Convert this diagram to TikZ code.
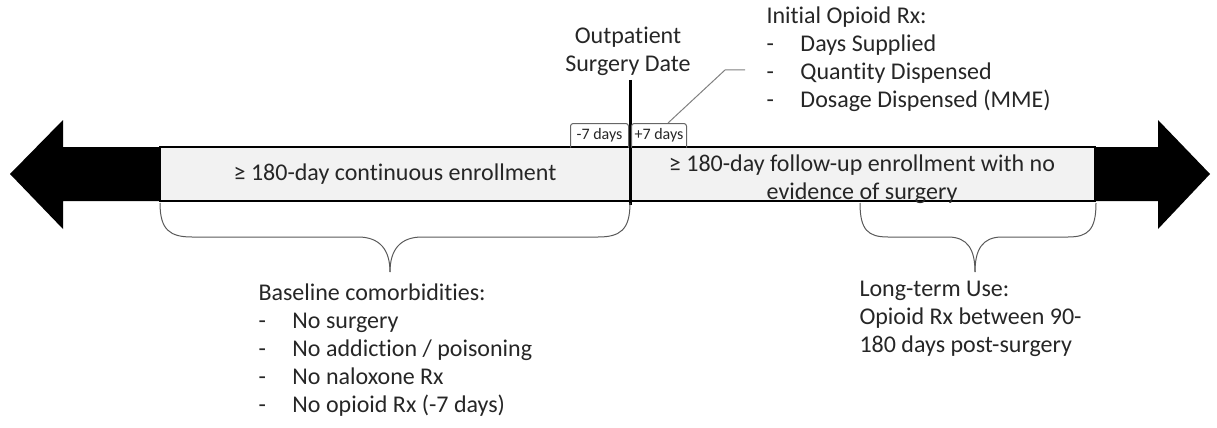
\documentclass[tikz,border=0pt]{standalone}
\usepackage{fontspec}
\setmainfont{Carlito}[Ligatures=NoCommon]
\newcommand{\dashitem}[1]{\makebox[25.5pt][l]{-}#1}

\tikzset{every picture/.style={line width=0.75pt}}

\begin{document}
\begin{tikzpicture}[x=0.75pt,y=0.75pt,yscale=-1,xscale=1,
  txt/.style={font=\fontsize{18}{21}\selectfont, text=black!85, inner sep=0pt},
  enrollbox/.style={draw=black, line width=1pt, fill=black!5, minimum height=40.5pt, inner sep=0pt},
  daybox/.style={font=\fontsize{12}{14}\selectfont, text=black!85, inner sep=0pt, minimum height=17.25pt},
  bracket/.style={draw=black!65, line width=0.75pt}]
\useasboundingbox (0,0) rectangle (1217,428);

%Shape: Double Arrow
\fill [black] (10,174) -- (63,120) -- (63,147) -- (1158,147) -- (1158,120) -- (1210,174) -- (1158,229) -- (1158,201) -- (63,201) -- (63,229) -- cycle ;

%Shape: Rectangle
\draw (395,174) node (enrollL) [enrollbox, txt, minimum width=352.5pt] {≥ 180-day continuous enrollment};
%Shape: Rectangle
\draw (862.5,174) node (enrollR) [enrollbox, minimum width=348.75pt] {};
% Text Node
\draw (862,179) node (followtxt) [txt, align=center] {≥ 180-day follow-up enrollment with no\\evidence of surgery};

%Straight Lines
\coordinate (surgtop) at (630,80);
\coordinate (surgbot) at (630,205);
\draw [line width=2.25pt] (surgtop) -- (surgbot) ;

%Shape: Brackets
\draw (599.5,135.5) node (minus7) [daybox, minimum width=42.75pt] {-7 days};
\draw (659,135.5) node (plus7) [daybox, minimum width=40.5pt] {+7 days};
\draw [black!60, rounded corners=2pt] (minus7.south west) -- (minus7.north west) -- (minus7.north east) -- (minus7.south east) ;
\draw [black!60, rounded corners=2pt] (plus7.south west) -- (plus7.north west) -- (plus7.north east) -- (plus7.south east) ;

%Straight Lines
\coordinate (leadA) at (668,123);
\coordinate (leadB) at (745,70);
\draw [black!50] (leadA) -- (725,70) -- (leadB) ;

%Curve Lines
\draw [bracket] (160,203) .. controls (160,230) and (170,237) .. (192,237) -- (358,237) .. controls (380,237) and (390,250) .. (390,272) ;
\draw [bracket] (630,203) .. controls (630,230) and (620,237) .. (598,237) -- (422,237) .. controls (400,237) and (390,250) .. (390,272) ;

%Curve Lines
\draw [bracket] (860,203) .. controls (860,230) and (868,237) .. (888,237) -- (948,237) .. controls (968,237) and (975,250) .. (975,272) ;
\draw [bracket] (1096,203) .. controls (1096,230) and (1088,237) .. (1068,237) -- (1002,237) .. controls (982,237) and (975,250) .. (975,272) ;

% Text Node
\draw (628,51) node (surgdate) [txt, align=center] {Outpatient\\Surgery Date};
% Text Node
\draw (766,59) node (initrx) [txt, align=left, anchor=west] {Initial Opioid Rx:\\\dashitem{Days Supplied}\\\dashitem{Quantity Dispensed}\\\dashitem{Dosage Dispensed (MME)}};
% Text Node
\draw (258,350) node (baseline) [txt, align=left, anchor=west] {Baseline comorbidities:\\\dashitem{No surgery}\\\dashitem{No addiction / poisoning}\\\dashitem{No naloxone Rx}\\\dashitem{No opioid Rx (-7 days)}};
% Text Node
\draw (859,319) node (longterm) [txt, align=left, anchor=west] {Long-term Use:\\Opioid Rx between 90-\\180 days post-surgery};

\end{tikzpicture}
\end{document}
